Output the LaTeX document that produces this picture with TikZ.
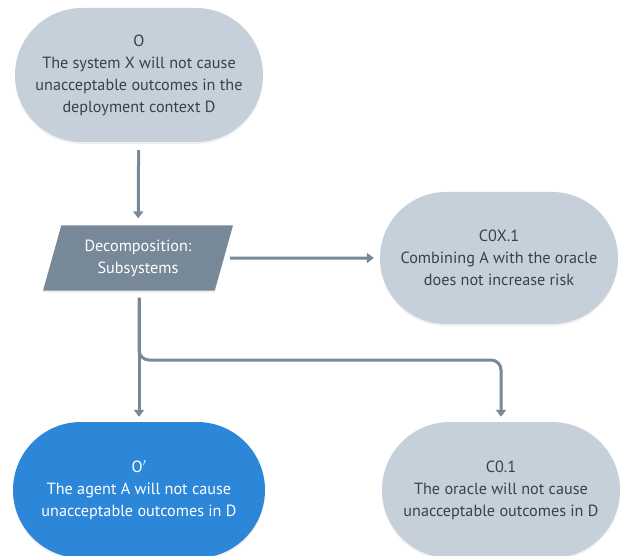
\documentclass[tikz,border=0pt]{standalone}
\usepackage{fontspec}
\setmainfont{PT Sans}
\usetikzlibrary{shapes.misc,shapes.geometric,arrows.meta,shadows}
\definecolor{goalfill}{HTML}{C5D0DA}
\definecolor{goaltext}{HTML}{3B4146}
\definecolor{slate}{HTML}{778899}
\definecolor{agentblue}{HTML}{2C87D8}
\tikzset{
  goal/.style={rounded rectangle, fill=goalfill, text=goaltext, align=center,
    font=\fontsize{16.2}{22}\selectfont, inner sep=0pt,
    drop shadow={opacity=0.12, shadow xshift=0pt, shadow yshift=-2pt}},
  strategy/.style={trapezium, trapezium left angle=71, trapezium right angle=109,
    trapezium stretches=true, fill=slate, text=white, align=center,
    font=\fontsize{16.2}{22}\selectfont, minimum width=190pt, minimum height=65pt,
    inner sep=0pt, drop shadow={opacity=0.12, shadow xshift=0pt, shadow yshift=-2pt}},
  flow/.style={slate, line width=3pt, -{Triangle[width=10pt,length=7pt]}}
}
\begin{document}
\begin{tikzpicture}[x=1pt,y=-1pt]
\useasboundingbox (0,0) rectangle (621,556);

%goal and strategy nodes
\node[goal, minimum width=248pt, minimum height=134pt] (o) at (139,75)
  {O\\The system X will not cause\\unacceptable outcomes in the\\deployment context D};
\node[strategy] (dec) at (138,258) {Decomposition:\\Subsystems};
\node[goal, minimum width=238pt, minimum height=132pt] (c0x1) at (499,258)
  {C0X.1\\Combining A with the oracle\\does not increase risk};
\node[goal, fill=agentblue, text=white, minimum width=252pt, minimum height=136pt] (o1) at (139,490)
  {O$'$\\The agent A will not cause\\unacceptable outcomes in D};
\node[goal, minimum width=238pt, minimum height=136pt] (c01) at (501,490)
  {C0.1\\The oracle will not cause\\unacceptable outcomes in D};

%connectors
\coordinate (split) at (139,360);
\draw[flow, shorten <=8pt, shorten >=7pt] (o) -- (dec);
\draw[flow, shorten <=6pt, shorten >=6pt] (dec.east) -- (c0x1.west);
\draw[flow, shorten <=7pt, shorten >=5pt] (dec.south -| o1.north) -- (o1.north);
\draw[flow, shorten <=7pt, shorten >=5pt, rounded corners=10pt] (dec.south -| o1.north) -- (split) -| (c01.north);
\end{tikzpicture}
\end{document}
